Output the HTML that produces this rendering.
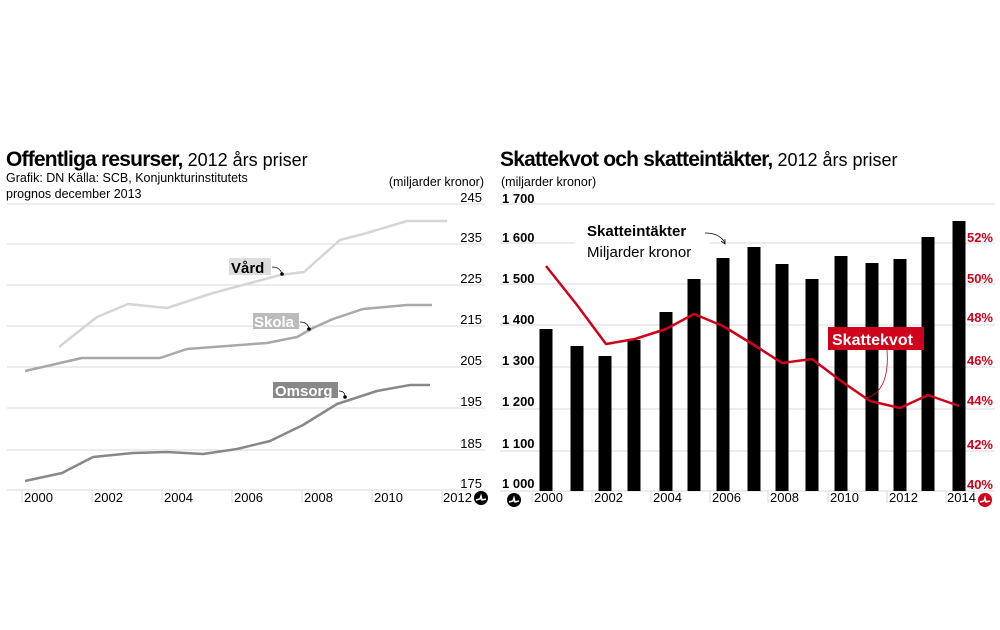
<!DOCTYPE html>
<html><head><meta charset="utf-8"><style>
body{margin:0;background:#fff}
svg{display:block;font-family:"Liberation Sans",sans-serif}
</style></head><body>
<svg width="1000" height="630" viewBox="0 0 1000 630" xmlns="http://www.w3.org/2000/svg">
<rect width="1000" height="630" fill="#fff"/>
<!-- LEFT -->
<text x="6" y="166" font-size="21" font-weight="bold" letter-spacing="-0.8">Offentliga resurser,<tspan font-weight="normal" font-size="18" letter-spacing="0"> 2012 års priser</tspan></text>
<text x="6" y="182" font-size="12.5">Grafik: DN  Källa: SCB, Konjunkturinstitutets</text>
<text x="6" y="198" font-size="12.5">prognos december 2013</text>
<text x="484" y="186" font-size="12.5" text-anchor="end">(miljarder kronor)</text>
<g stroke="#d8d8d8" stroke-width="1">
<line x1="7" y1="204" x2="485" y2="204"/><line x1="7" y1="244" x2="485" y2="244"/>
<line x1="7" y1="285" x2="485" y2="285"/><line x1="7" y1="326" x2="485" y2="326"/>
<line x1="7" y1="367" x2="485" y2="367"/><line x1="7" y1="408" x2="485" y2="408"/>
<line x1="7" y1="450" x2="485" y2="450"/><line x1="7" y1="490" x2="485" y2="490"/>
<line x1="22" y1="490" x2="22" y2="503"/><line x1="92" y1="490" x2="92" y2="503"/>
<line x1="162" y1="490" x2="162" y2="503"/><line x1="232" y1="490" x2="232" y2="503"/>
<line x1="302" y1="490" x2="302" y2="503"/><line x1="372" y1="490" x2="372" y2="503"/>
<line x1="442" y1="490" x2="442" y2="503"/>
</g>
<g font-size="13" text-anchor="end">
<text x="482" y="202">245</text><text x="482" y="242">235</text><text x="482" y="283">225</text>
<text x="482" y="324">215</text><text x="482" y="365">205</text><text x="482" y="406">195</text>
<text x="482" y="448">185</text><text x="482" y="488">175</text>
</g>
<g font-size="13">
<text x="24" y="502">2000</text><text x="94" y="502">2002</text><text x="164" y="502">2004</text>
<text x="234" y="502">2006</text><text x="304" y="502">2008</text><text x="374" y="502">2010</text>
<text x="443" y="502">2012</text>
</g>
<g fill="none" stroke-width="2.5" stroke-linejoin="round">
<polyline stroke="#d5d5d5" points="59,347 97,317 128,304 167,308 213,293 280,275 304,272 340,240 367,233 407,221 447,221"/>
<polyline stroke="#a8a8a8" points="25,371 82,358 160,358 187,349 267,343 297,337 313,328 333,319 363,309 407,305 432,305"/>
<polyline stroke="#888" points="25,481 62,473 93,457 133,453 167,452 203,454 237,449 270,441 303,425 337,404 377,391 410,385 430,385"/>
</g>
<rect x="229" y="258" width="42" height="17" fill="#ddd"/>
<text x="231" y="273" font-size="15" font-weight="bold">Vård</text>
<path d="M272,267 q8,0 10,7" stroke="#000" fill="none" stroke-width="0.7"/><circle cx="282" cy="274" r="1.8"/>
<rect x="253" y="313" width="46" height="16" fill="#bbb"/>
<text x="254" y="327" font-size="15" font-weight="bold" fill="#fff">Skola</text>
<path d="M300,322 q8,0 9,7" stroke="#000" fill="none" stroke-width="0.7"/><circle cx="309" cy="329" r="1.8"/>
<rect x="273" y="382" width="65" height="16" fill="#888"/>
<text x="275" y="396" font-size="15" font-weight="bold" fill="#fff">Omsorg</text>
<path d="M339,391 q6,0 6,6" stroke="#000" fill="none" stroke-width="0.7"/><circle cx="345" cy="397" r="1.8"/>
<circle cx="481" cy="498" r="7"/>
<path d="M476,500 l4,-1 l1,-3 l1,4 l4,-1" stroke="#fff" stroke-width="1.5" fill="none"/>
<!-- RIGHT -->
<text x="500" y="166" font-size="21" font-weight="bold" letter-spacing="-0.8">Skattekvot och skatteintäkter,<tspan font-weight="normal" font-size="18" letter-spacing="0"> 2012 års priser</tspan></text>
<text x="501" y="186" font-size="12.5">(miljarder kronor)</text>
<g stroke="#d8d8d8" stroke-width="1">
<line x1="500" y1="204" x2="995" y2="204"/><line x1="500" y1="243" x2="995" y2="243"/>
<line x1="500" y1="284" x2="995" y2="284"/><line x1="500" y1="325" x2="995" y2="325"/>
<line x1="500" y1="367" x2="995" y2="367"/><line x1="500" y1="409" x2="995" y2="409"/>
<line x1="500" y1="451" x2="995" y2="451"/><line x1="500" y1="491" x2="995" y2="491"/>
<line x1="532" y1="491" x2="532" y2="503"/><line x1="592" y1="491" x2="592" y2="503"/>
<line x1="651" y1="491" x2="651" y2="503"/><line x1="710" y1="491" x2="710" y2="503"/>
<line x1="768" y1="491" x2="768" y2="503"/><line x1="828" y1="491" x2="828" y2="503"/>
<line x1="887" y1="491" x2="887" y2="503"/><line x1="946" y1="491" x2="946" y2="503"/>
</g>
<g font-size="13" font-weight="bold">
<text x="502" y="203">1 700</text><text x="502" y="242">1 600</text><text x="502" y="283">1 500</text>
<text x="502" y="324">1 400</text><text x="502" y="365">1 300</text><text x="502" y="406">1 200</text>
<text x="502" y="448">1 100</text><text x="502" y="488">1 000</text>
</g>
<g font-size="13" font-weight="bold" fill="#d0021b" text-anchor="end">
<text x="993" y="242">52%</text><text x="993" y="283">50%</text><text x="993" y="322">48%</text>
<text x="993" y="365">46%</text><text x="993" y="405">44%</text><text x="993" y="449">42%</text>
<text x="993" y="489">40%</text>
</g>
<rect x="575" y="220" width="135" height="42" fill="#fff"/>
<g fill="#000">
<rect x="539.5" y="329" width="13" height="162"/><rect x="570.5" y="346" width="13" height="145"/>
<rect x="598.5" y="356" width="13" height="135"/><rect x="627.5" y="340" width="13" height="151"/>
<rect x="659.5" y="312" width="13" height="179"/><rect x="687.5" y="279" width="13" height="212"/>
<rect x="716.5" y="258" width="13" height="233"/><rect x="747.5" y="247" width="13" height="244"/>
<rect x="775.5" y="264" width="13" height="227"/><rect x="805.5" y="279" width="13" height="212"/>
<rect x="834.5" y="256" width="13" height="235"/><rect x="865.5" y="263" width="13" height="228"/>
<rect x="893.5" y="259" width="13" height="232"/><rect x="921.5" y="237" width="13" height="254"/>
<rect x="952.5" y="221" width="13" height="270"/>
</g>
<g font-size="13">
<text x="534" y="502">2000</text><text x="594" y="502">2002</text><text x="653" y="502">2004</text>
<text x="712" y="502">2006</text><text x="770" y="502">2008</text><text x="830" y="502">2010</text>
<text x="889" y="502">2012</text><text x="947" y="502">2014</text>
</g>
<text x="587" y="236" font-size="15" font-weight="bold">Skatteintäkter</text>
<text x="587" y="257" font-size="15">Miljarder kronor</text>
<path d="M705,233 q15,0 20,10" stroke="#000" fill="none" stroke-width="0.8"/>
<path d="M721,241 l4,3 l0,-5" stroke="#000" fill="none" stroke-width="0.8"/>
<polyline fill="none" stroke="#d0021b" stroke-width="2.5" stroke-linejoin="round" points="546,266 577,305 606,344 635,339 666,329 694,314 723,326 754,345 782,363 812,359 841,381 870,401 900,408 928,395 959,406"/>
<path d="M887,350 q3,40 -20,48" stroke="#d0021b" fill="none" stroke-width="0.8"/>
<rect x="828" y="327" width="96" height="23" fill="#d0021b"/>
<text x="832" y="345" font-size="16" font-weight="bold" fill="#fff">Skattekvot</text>
<circle cx="514" cy="500" r="7"/>
<path d="M509,502 l4,-1 l1,-3 l1,4 l4,-1" stroke="#fff" stroke-width="1.5" fill="none"/>
<circle cx="985" cy="500" r="7" fill="#d0021b"/>
<path d="M980,502 l4,-1 l1,-3 l1,4 l4,-1" stroke="#fff" stroke-width="1.5" fill="none"/>
</svg>
</body></html>
